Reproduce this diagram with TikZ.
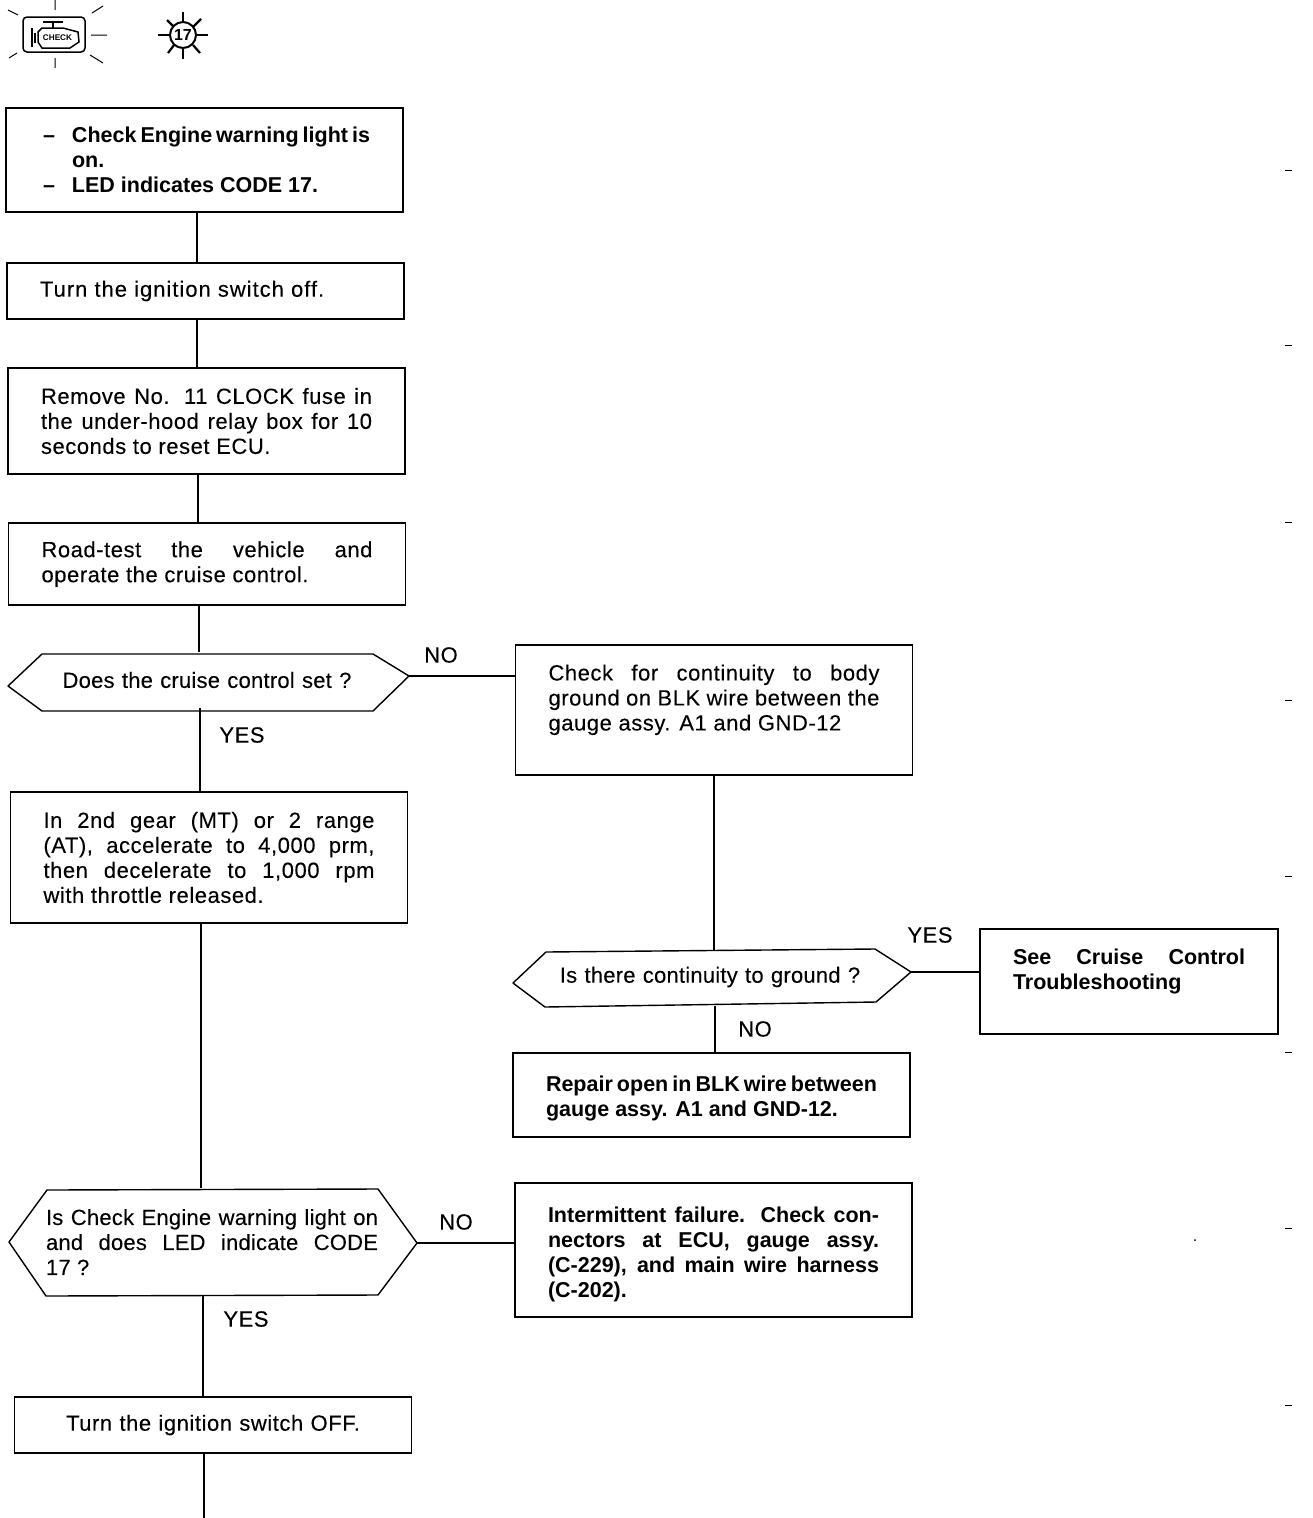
\documentclass[tikz,border=0pt]{standalone}
\usepackage{fontspec}
\setmainfont[LetterSpace=2.5,FakeBold=0.15]{Liberation Sans}
\newfontfamily\iconfont{Liberation Sans}
\hyphenpenalty=10000
\tikzset{
  flowbox/.style   = {draw, line width=1.4pt, align=justify, text width=331pt, inner xsep=33pt, inner ysep=0pt},
  boldbox/.style   = {flowbox, font=\iconfont\bfseries\fontsize{21.5}{25}\selectfont},
  asktext/.style   = {align=justify, inner sep=0pt, minimum height=56pt, font=\addfontfeature{LetterSpace=1}\fontsize{22}{25}\selectfont},
  askline/.style   = {line width=1.4pt, line join=round},
  answer/.style    = {inner sep=0pt},
  flowline/.style  = {line width=1.4pt},
  icon/.style      = {line width=1pt},
}
\begin{document}
\begin{tikzpicture}[x=1pt, y=-1pt, font=\fontsize{22}{25}\selectfont]
  \useasboundingbox (0,0) rectangle (1312,1518);

  % warning light
  \draw[icon, line width=1.5pt, rounded corners=4pt] (23,17) rectangle (85,52);
  \draw[icon, line width=1.5pt] (32,28) -- (32,47)  (35,33) -- (35,43)  (43,22) -- (63,22)  (53,22) -- (53,28);
  \draw[icon, line width=1.5pt] (42,28) -- (63,28) -- (78,32) -- (79,42) -- (70,48) -- (42,48) -- (38,42) -- (38,32) -- cycle;
  \node[inner sep=0pt, font=\iconfont\bfseries\fontsize{8.2}{8}\selectfont] (checkword) at (57.5,37.5) {CHECK};
  \draw[icon] (55,0) -- (55,10)  (8,10) -- (18,15)  (92,13) -- (103,6)  (91,35) -- (107,35);
  \draw[icon] (90,55) -- (103,63)  (55,58) -- (55,68)  (9,58) -- (17,53);

  % code lamp
  \node[draw, circle, line width=2pt, minimum size=26pt, inner sep=0pt,
        font=\iconfont\bfseries\fontsize{16}{16}\selectfont] (lamp) at (183,35) {17};
  \draw[line width=2.2pt] (183,12) -- (183,23)  (183,47) -- (183,59)  (158,35) -- (170,35)  (197,35) -- (208,35);
  \draw[line width=2.2pt] (167,20) -- (173,26)  (193,27) -- (201,19)  (168,53) -- (174,45)  (193,45) -- (200,53);

  % left column
  \node[boldbox, minimum height=104pt] (engine) at (204.5,160)
    {\hspace*{4pt}\makebox[29pt][l]{\textendash}Check Engine warning light is\\
     \hspace*{33pt}on.\\
     \hspace*{4pt}\makebox[29pt][l]{\textendash}LED indicates CODE 17.};
  \node[flowbox, minimum height=56pt] (ignoff) at (205.5,291) {\addfontfeature{LetterSpace=4.5}Turn the ignition switch off.};
  \node[flowbox, minimum height=106pt] (fuse) at (206.5,421)
    {\leftskip=3.5pt\rightskip=-3.5pt Remove No. 11 CLOCK fuse in\linebreak the under-hood relay box for 10\linebreak seconds to reset ECU.};
  \node[flowbox, minimum height=82pt] (roadtest) at (207,564)
    {Road-test the vehicle and\linebreak operate the cruise control.};
  \node[asktext, text width=328pt, align=center] (cruiseset) at (207,680) {Does the cruise control set ?};
  \coordinate (cruisetip) at (409,676);
  \draw[askline] (42,654) -- (373,654) -- (cruisetip) -- (373,711) -- (42,711) -- (8,686) -- cycle;
  \node[flowbox, minimum height=131pt] (gear) at (209,857.5)
    {In 2nd gear (MT) or 2 range\linebreak (AT), accelerate to 4,000 prm,\linebreak then decelerate to 1,000 rpm\linebreak with throttle released.};
  \node[asktext, text width=332pt, minimum height=107pt] (codeagain) at (212,1242)
    {Is Check Engine warning light on\linebreak and does LED indicate CODE\linebreak 17 ?};
  \coordinate (codetip) at (417,1243);
  \draw[askline] (47,1190) -- (378,1189) -- (codetip) -- (378,1295) -- (46,1296) -- (9,1242) -- cycle;
  \node[flowbox, minimum height=56pt, align=center] (ignoffend) at (213,1425) {Turn the ignition switch OFF.};
  \coordinate (pageend) at (204,1518);

  % right column
  \node[flowbox, minimum height=130pt] (continuity) at (714,710)
    {Check for continuity to body\linebreak ground on BLK wire between the\linebreak gauge assy. A1 and GND-12\\ \mbox{}};
  \node[asktext, text width=325pt, align=center] (contground) at (710,977) {Is there continuity to ground ?};
  \coordinate (groundtip) at (911,972);
  \draw[askline] (546,952) -- (875,949) -- (groundtip) -- (876,1002) -- (545,1007) -- (513,983) -- cycle;
  \node[boldbox, minimum height=84pt] (repair) at (711.5,1095)
    {\rule{0pt}{23pt}Repair open in BLK wire between\linebreak gauge assy. A1 and GND-12.};
  \node[boldbox, minimum height=134pt] (failure) at (713.5,1250)
    {\rule{0pt}{24pt}Intermittent failure. Check con-\linebreak nectors at ECU, gauge assy.\linebreak (C-229), and main wire harness\linebreak (C-202).};
  \node[boldbox, text width=232pt, minimum height=105pt] (seecruise) at (1129,981.5)
    {See Cruise Control\linebreak Troubleshooting\\ \mbox{}};

  % connectors
  \draw[flowline] ([xshift=-7.5pt]engine.south) -- ([xshift=-8.5pt]ignoff.north);
  \draw[flowline] ([xshift=-8.5pt]ignoff.south) -- ([xshift=-9.5pt]fuse.north);
  \draw[flowline] ([xshift=-8.5pt]fuse.south) -- ([xshift=-9pt]roadtest.north);
  \draw[flowline] ([xshift=-8pt]roadtest.south) -- ([xshift=-8pt]cruiseset.north);
  \draw[flowline] ([xshift=-7pt]cruiseset.south) -- ([xshift=-9pt]gear.north);
  \draw[flowline] ([xshift=-8pt]gear.south) -- ([xshift=-11pt]codeagain.north);
  \draw[flowline] ([xshift=-9pt]codeagain.south) -- ([xshift=-10pt]ignoffend.north);
  \draw[flowline] ([xshift=-9pt]ignoffend.south) -- (pageend);
  \draw[flowline] (cruisetip) -- (cruisetip -| continuity.west);
  \draw[flowline] (continuity.south) -- ([yshift=-1pt,xshift=4pt]contground.north);
  \draw[flowline] (groundtip) -- (groundtip -| seecruise.west);
  \draw[flowline] ([yshift=-1pt,xshift=5pt]contground.south) -- ([xshift=3.5pt]repair.north);
  \draw[flowline] (codetip) -- (codetip -| failure.west);

  % answers
  \node[answer] (noset) at (441,655) {NO};
  \node[answer] (yesset) at (242,735) {YES};
  \node[answer] (yesground) at (930,935) {YES};
  \node[answer] (noground) at (755,1029) {NO};
  \node[answer] (nocode) at (456,1222) {NO};
  \node[answer] (yescode) at (246,1319) {YES};

  % margin ticks
  \draw[line width=1pt] (1285,170) -- (1292,170)  (1285,345) -- (1292,345)  (1285,522) -- (1292,522)  (1285,700) -- (1292,700);
  \draw[line width=1pt] (1285,876) -- (1292,876)  (1285,1052) -- (1292,1052)  (1285,1228) -- (1292,1228)  (1285,1405) -- (1292,1405);
  \fill (1195,1240) circle (1);
\end{tikzpicture}
\end{document}
